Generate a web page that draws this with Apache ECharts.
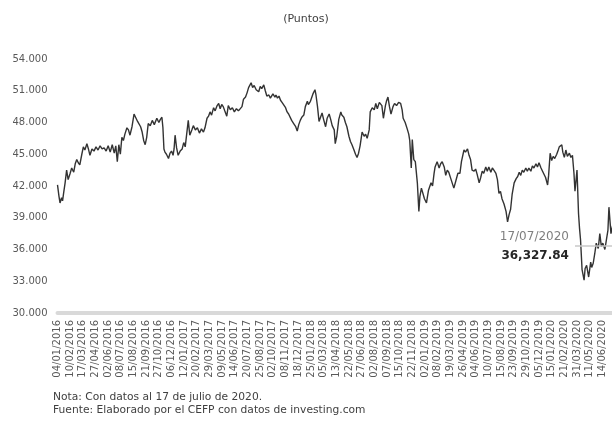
<!DOCTYPE html>
<html>
<head>
<meta charset="utf-8">
<script src="https://cdn.jsdelivr.net/npm/echarts@6/dist/echarts.min.js"></script>
<style>
  html, body { margin: 0; padding: 0; background: #fff; }
  #chart { width: 612px; height: 424px; }
</style>
</head>
<body>
<div id="chart"></div>
<script>
// fechas del eje (una cada 25 sesiones)
const tickLabels = ['04/01/2016', '10/02/2016', '17/03/2016', '27/04/2016', '02/06/2016', '08/07/2016',
  '15/08/2016', '21/09/2016', '27/10/2016', '06/12/2016', '12/01/2017', '20/02/2017', '29/03/2017',
  '09/05/2017', '14/06/2017', '20/07/2017', '25/08/2017', '02/10/2017', '08/11/2017', '18/12/2017',
  '25/01/2018', '05/03/2018', '13/04/2018', '22/05/2018', '27/06/2018', '02/08/2018', '07/09/2018',
  '15/10/2018', '22/11/2018', '02/01/2019', '08/02/2019', '19/03/2019', '26/04/2019', '04/06/2019',
  '10/07/2019', '15/08/2019', '23/09/2019', '29/10/2019', '05/12/2019', '15/01/2020', '21/02/2020',
  '31/03/2020', '11/05/2020', '14/06/2020']

// sesión (días hábiles desde 04/01/2016)
const days = [
  0, 3, 5, 8, 10, 12, 15, 18, 21, 25,
  28, 32, 35, 38, 41, 44, 48, 51, 54, 58,
  61, 64, 68, 72, 76, 80, 84, 88, 92, 96,
  100, 104, 108, 112, 115, 118, 121, 124, 127, 130,
  133, 137, 140, 143, 147, 151, 154, 158, 161, 164,
  167, 170, 173, 176, 179, 183, 187, 191, 196, 200,
  203, 206, 208, 210, 212, 215, 219, 222, 225, 228,
  230, 232, 235, 238, 242, 246, 249, 252, 255, 258,
  261, 265, 268, 272, 276, 280, 284, 288, 291, 295,
  298, 301, 304, 308, 311, 315, 318, 321, 324, 327,
  330, 334, 337, 341, 345, 349, 353, 357, 360, 364,
  367, 371, 374, 377, 382, 385, 388, 392, 397, 400,
  403, 407, 410, 413, 417, 420, 425, 429, 431, 434,
  437, 440, 443, 446, 450, 453, 456, 459, 462, 466,
  470, 473, 476, 479, 482, 486, 489, 493, 495, 499,
  504, 508, 510, 513, 516, 519, 522, 525, 529, 532,
  536, 539, 542, 546, 548, 551, 555, 559, 561, 565,
  568, 571, 575, 578, 581, 585, 588, 591, 594, 597,
  601, 605, 608, 611, 615, 617, 621, 625, 628, 631,
  635, 640, 643, 647, 649, 652, 655, 658, 662, 665,
  669, 673, 677, 680, 682, 686, 690, 693, 695, 698,
  700, 703, 706, 710, 713, 715, 718, 721, 724, 728,
  732, 737, 740, 743, 745, 749, 753, 756, 759, 763,
  766, 769, 772, 776, 779, 782, 786, 790, 794, 797,
  802, 805, 809, 812, 815, 818, 822, 825, 828, 832,
  835, 838, 841, 845, 848, 851, 855, 858, 861, 865,
  868, 871, 874, 877, 881, 885, 888, 891, 894, 897,
  901, 905, 908, 911, 914, 917, 920, 924, 927, 930,
  934, 937, 940, 944, 947, 950, 954, 957, 960, 963,
  967, 969, 972, 975, 978, 981, 985, 988, 990, 995,
  997, 1000, 1003, 1006, 1010, 1013, 1016, 1019, 1021, 1025,
  1028, 1030, 1032, 1035, 1039, 1041, 1044, 1048, 1052, 1054,
  1057, 1060, 1063, 1067, 1070, 1073, 1076, 1080, 1083, 1086,
  1088, 1092, 1096, 1098
]

// IPC, puntos
const ipc = [
  42100, 41000, 40400, 40900, 40600, 41300, 42300, 43500, 42600, 43200,
  43700, 43300, 44100, 44500, 44200, 44000, 45000, 45700, 45400, 46000,
  45500, 44900, 45500, 45300, 45700, 45400, 45800, 45500, 45600, 45300,
  45800, 45200, 45900, 45100, 45800, 44300, 45900, 45000, 46600, 46300,
  46900, 47500, 47300, 46800, 47600, 48800, 48500, 48100, 48000, 47600,
  47100, 46300, 45900, 46600, 47900, 47700, 48200, 47800, 48400, 48000,
  48300, 48500, 47500, 45500, 45200, 45000, 44600, 45100, 45300, 44900,
  45500, 46800, 45600, 44900, 45300, 45500, 46100, 45700, 45800, 48200,
  46800, 47300, 47700, 47300, 47500, 47000, 47400, 47100, 47500, 48400,
  48600, 49000, 48700, 49400, 49100, 49600, 49800, 49300, 49700, 49500,
  49100, 48600, 49600, 49200, 49400, 49000, 49300, 49100, 49200, 49500,
  50200, 50400, 50800, 51300, 51750, 51300, 51500, 51100, 50900, 51400,
  51200, 51550, 51000, 50500, 50600, 50300, 50700, 50400, 50600, 50300,
  50500, 50100, 49900, 49800, 49400, 49000, 48800, 48700, 48200, 47900,
  47600, 47200, 47800, 48200, 48500, 48700, 49500, 50000, 49700, 50000,
  50700, 51100, 50600, 49500, 48100, 48500, 48900, 48300, 47600, 48400,
  48800, 48300, 47700, 47300, 46000, 46700, 48300, 49000, 48700, 48500,
  48000, 47600, 46700, 46200, 45900, 45400, 45000, 44700, 45100, 45800,
  47100, 46700, 46900, 46500, 47300, 49000, 49400, 49200, 49800, 49300,
  49900, 49600, 48400, 49600, 50000, 50400, 49500, 48800, 49500, 49800,
  49600, 49900, 49800, 49200, 48400, 48000, 47400, 46900, 46300, 43700,
  46400, 44500, 44300, 42300, 39600, 41000, 41800, 41900, 40800, 40400,
  41600, 42300, 42000, 43200, 43800, 44300, 43700, 44100, 44300, 43800,
  43000, 43500, 43300, 42700, 42600, 41800, 42500, 43200, 43200, 44300,
  45400, 45200, 45500, 44900, 44500, 43500, 43400, 43600, 43100, 42300,
  42800, 43400, 43200, 43800, 43400, 43800, 43300, 43700, 43500, 43200,
  42600, 41300, 41500, 40800, 40300, 39600, 38600, 39300, 39800, 41200,
  42300, 42700, 42900, 43300, 43000, 43500, 43300, 43700, 43400, 43700,
  43400, 43900, 43700, 44100, 43800, 44200, 43700, 43400, 43300, 42800,
  42100, 43000, 45100, 44400, 44800, 44600, 45000, 45400, 45700, 45900,
  45200, 44700, 45400, 44800, 45100, 44700, 44900, 43200, 41500, 43500,
  39400, 38000, 36900, 34100, 33100, 34200, 34500, 33400, 34800, 34300,
  34700, 35600, 36600, 36100, 37500, 36300, 36600, 36000, 36900, 37800,
  40000, 37500, 38400, 36327.84
]

const lastDate = '17/07/2020'
const calloutStart = 1021

const chart = echarts.init(document.getElementById('chart'))

const lastDay = days[days.length - 1]
const lastValue = ipc[ipc.length - 1]
const lastText = lastValue.toLocaleString('en-US', { minimumFractionDigits: 2, maximumFractionDigits: 2 })

const option = {
  animation: false,
  title: {
    text: '(Puntos)',
    left: 'center',
    top: 9,
    textStyle: { fontFamily: 'DejaVu Sans', fontSize: 11, fontWeight: 'normal', color: '#404040' }
  },
  grid: {
    left: 57.5,
    right: -2,
    top: 59,
    bottom: 111,
    outerBoundsMode: 'none'
  },
  xAxis: {
    type: 'value',
    min: 0,
    max: lastDay,
    interval: 25,
    axisLine: { lineStyle: { color: '#d9d9d9', width: 4 } },
    axisTick: { show: false },
    splitLine: { show: false },
    axisLabel: {
      rotate: 90,
      margin: 7,
      showMaxLabel: false,
      fontFamily: 'DejaVu Sans',
      fontSize: 10,
      color: '#595959',
      formatter: v => (v % 25 === 0 && tickLabels[v / 25]) || ''
    }
  },
  yAxis: {
    type: 'value',
    min: 30000,
    max: 54000,
    interval: 3000,
    axisLine: { show: false },
    axisTick: { show: false },
    splitLine: { show: false },
    axisLabel: {
      margin: 10,
      fontFamily: 'DejaVu Sans',
      fontSize: 10,
      color: '#595959',
      formatter: v => (v / 1000) + '.000'
    }
  },
  series: [
    {
      type: 'line',
      data: days.map((d, i) => [d, ipc[i]]),
      showSymbol: false,
      lineStyle: { color: '#333333', width: 1.4 },
      markLine: {
        silent: true,
        symbol: ['none', 'none'],
        lineStyle: { color: '#c8c8c8', width: 1.5, type: 'solid' },
        label: {
          position: 'start',
          distance: 6,
          formatter: '{a|' + lastDate + '}\n{b|' + lastText + '}',
          rich: {
            a: { fontFamily: 'DejaVu Sans', fontSize: 12, color: '#7f7f7f', lineHeight: 19, align: 'right' },
            b: { fontFamily: 'DejaVu Sans', fontSize: 12, fontWeight: 'bold', color: '#262626', lineHeight: 19, align: 'right' }
          }
        },
        data: [[{ coord: [calloutStart, lastValue] }, { coord: [lastDay, lastValue] }]]
      }
    }
  ],
  graphic: [
    {
      type: 'text',
      left: 53,
      top: 391,
      style: {
        text: 'Nota: Con datos al 17 de julio de 2020.\nFuente: Elaborado por el CEFP con datos de investing.com',
        font: '10.7px "DejaVu Sans"',
        lineHeight: 12.5,
        fill: '#404040'
      }
    }
  ]
}

chart.setOption(option)
</script>
</body>
</html>
